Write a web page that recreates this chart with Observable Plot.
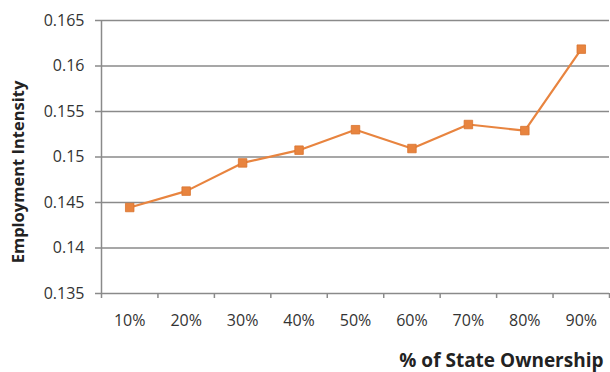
<!DOCTYPE html>
<html>
<head>
<meta charset="utf-8">
<script src="https://cdn.jsdelivr.net/npm/d3@7"></script>
<script src="https://cdn.jsdelivr.net/npm/@observablehq/plot@0.6"></script>
<style>
  html, body { margin: 0; padding: 0; background: #fff; }
  svg { display: block; }
</style>
</head>
<body>
<div id="chart"></div>
<script>
const categories = ["10%", "20%", "30%", "40%", "50%", "60%", "70%", "80%", "90%"];
const values = [0.14445, 0.14625, 0.14935, 0.15075, 0.15300, 0.15093, 0.15357, 0.15290, 0.16185];
const yTicks = [0.135, 0.14, 0.145, 0.15, 0.155, 0.16, 0.165];
const yTickLabels = ["0.135", "0.14", "0.145", "0.15", "0.155", "0.16", "0.165"];
const yTitle = "Employment Intensity";
const xTitle = "% of State Ownership";

const data = categories.map((c, i) => ({pos: i + 1, label: c, value: values[i]}));
const positions = categories.map((c, i) => i + 1);
const boundaries = [0.5, ...positions.map(p => p + 0.5)];

const font = "'Open Sans', Lato, sans-serif";
const orange = "#E8843F";

const chart = Plot.plot({
  width: 610,
  height: 372,
  marginLeft: 101,
  marginRight: 1,
  marginTop: 20,
  marginBottom: 79,
  style: {fontFamily: font, fontSize: "16px", color: "#333", background: "#fff"},
  x: {type: "linear", domain: [0.5, 9.5]},
  y: {domain: [0.135, 0.165]},
  marks: [
    Plot.gridY(yTicks, {stroke: "#8a8a8a", strokeOpacity: 1, strokeWidth: 1.5}),
    Plot.ruleX([0.5], {stroke: "#8a8a8a", strokeWidth: 1.5}),
    Plot.axisY(yTicks, {
      tickSize: 6, tickPadding: 11, stroke: "#8a8a8a", strokeWidth: 1.5,
      tickFormat: (d) => yTickLabels[yTicks.indexOf(d)], label: null,
      fontSize: 16, fill: "#333"
    }),
    Plot.axisX(boundaries, {tickSize: 5, tickFormat: () => "", stroke: "#8a8a8a", strokeWidth: 1.5, label: null}),
    Plot.axisX(positions, {
      tickSize: 0, tickPadding: 21, tickFormat: (d) => categories[d - 1], label: null,
      fontSize: 16, fill: "#333"
    }),
    Plot.line(data, {x: "pos", y: "value", stroke: orange, strokeWidth: 2.2}),
    Plot.dot(data, {x: "pos", y: "value", symbol: "square", r: 4.8, fill: orange, stroke: "#D9732E", strokeWidth: 0.8}),
    Plot.text([yTitle], {
      frameAnchor: "left", textAnchor: "middle", rotate: -90, dx: -83, dy: 15,
      fontWeight: "bold", fontSize: 16.5, fill: "#222"
    }),
    Plot.text([xTitle], {
      frameAnchor: "bottom-right", textAnchor: "end", lineAnchor: "bottom",
      dx: -6, dy: 73, fontWeight: "bold", fontSize: 19, fill: "#222"
    })
  ]
});
document.getElementById("chart").appendChild(chart);
</script>
</body>
</html>
